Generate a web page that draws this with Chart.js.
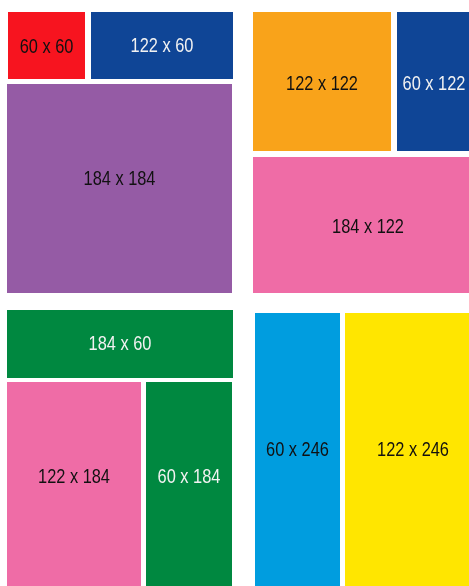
<!DOCTYPE html>
<html>
<head>
<meta charset="utf-8">
<script src="https://cdn.jsdelivr.net/npm/chart.js@4/dist/chart.umd.min.js"></script>
<style>
html,body{margin:0;padding:0;background:#fff;overflow:hidden;}
#wrap{position:relative;width:469px;height:586px;}
</style>
</head>
<body>
<div id="wrap"><canvas id="c" width="469" height="586"></canvas></div>
<script>
// Block labels (size names)
const blockLabels = ['60 x 60','122 x 60','184 x 184','122 x 122','60 x 122','184 x 122','184 x 60','122 x 184','60 x 184','60 x 246','122 x 246'];
// Block extents (in drawing units; right/bottom blocks run past the frame)
const xStart = [8, 91, 7, 253, 397, 253, 7, 7, 146, 255, 345];
const xEnd   = [85, 233, 232, 391, 471, 483, 233, 141, 232, 340, 481];
const yStart = [12, 12, 84, 12, 12, 157, 310, 382, 382, 313, 313];
const yEnd   = [79, 79, 293, 151, 151, 293, 378, 604, 604, 586, 586];
// Label anchor heights
const labelY = [46, 45, 178, 83, 83, 226, 343, 476, 476, 449, 449];
const fillColors = ['#f7141f','#0f4596','#955ba5','#f9a31a','#0f4596','#ef6ca6','#008840','#ef6ca6','#008840','#009ddf','#ffe600'];
const textColors = ['#111','#f2f2f2','#111','#111','#f2f2f2','#111','#f2f2f2','#111','#f2f2f2','#111','#111'];

const blocksPlugin = {
  id: 'blocks',
  beforeDatasetsDraw(chart) {
    const {ctx, scales:{x, y}} = chart;
    ctx.save();
    for (let i = 0; i < blockLabels.length; i++) {
      const px0 = x.getPixelForValue(xStart[i]);
      const px1 = x.getPixelForValue(xEnd[i]);
      const py0 = y.getPixelForValue(yStart[i]);
      const py1 = y.getPixelForValue(yEnd[i]);
      ctx.fillStyle = fillColors[i];
      ctx.fillRect(Math.min(px0,px1), Math.min(py0,py1), Math.abs(px1-px0), Math.abs(py1-py0));
    }
    ctx.font = '21px "Liberation Sans", Arial, sans-serif';
    ctx.textAlign = 'center';
    ctx.textBaseline = 'middle';
    for (let i = 0; i < blockLabels.length; i++) {
      const cx = x.getPixelForValue((xStart[i] + xEnd[i]) / 2);
      const cy = y.getPixelForValue(labelY[i]);
      ctx.save();
      ctx.translate(cx, cy + 1);
      ctx.scale(0.78, 1);
      ctx.fillStyle = textColors[i];
      ctx.fillText(blockLabels[i], 0, 0);
      ctx.restore();
    }
    ctx.restore();
  }
};

new Chart(document.getElementById('c'), {
  type: 'scatter',
  data: {
    datasets: [{
      data: blockLabels.map((l, i) => ({x: (xStart[i] + xEnd[i]) / 2, y: labelY[i]})),
      pointRadius: 0,
      pointHoverRadius: 0
    }]
  },
  options: {
    responsive: false,
    animation: false,
    devicePixelRatio: 1,
    layout: {padding: 0},
    plugins: {legend: {display: false}, tooltip: {enabled: false}},
    events: [],
    scales: {
      x: {type: 'linear', min: 0, max: 469, display: false},
      y: {type: 'linear', min: 0, max: 586, reverse: true, display: false}
    }
  },
  plugins: [blocksPlugin]
});
</script>
</body>
</html>
